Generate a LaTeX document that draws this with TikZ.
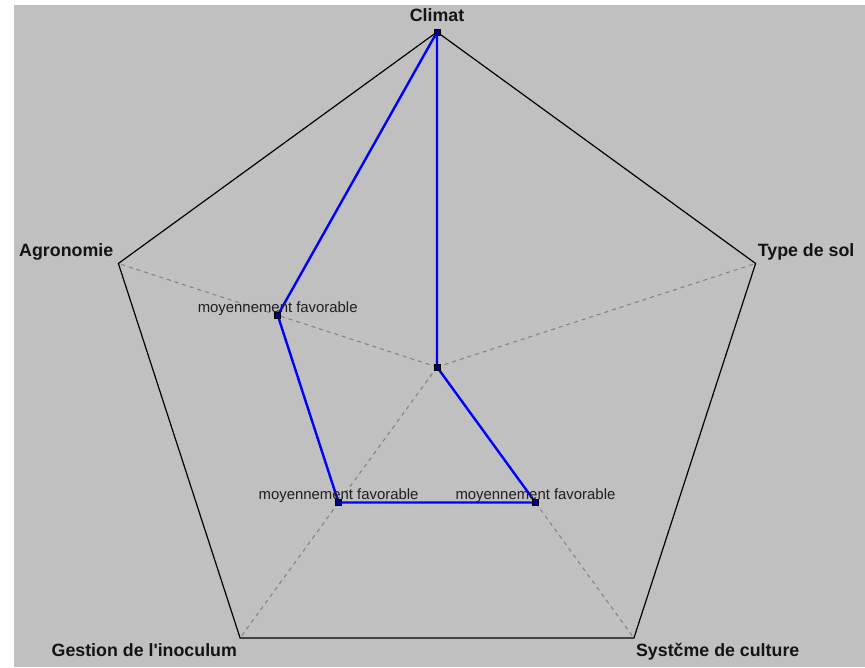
\documentclass[tikz,border=0pt]{standalone}
\usepackage{fontspec}
\setmainfont{Liberation Sans}
\definecolor{bggray}{RGB}{192,192,192}
\definecolor{dotblue}{RGB}{0,0,128}
\definecolor{spokegray}{RGB}{128,128,128}
\newcommand{\straightquote}{{\XeTeXglyph\XeTeXcharglyph"27\relax}}
\tikzset{
  axislabel/.style={font=\bfseries\fontsize{17.8}{20}\selectfont, text=black!92, inner sep=0pt},
  vallabel/.style={font=\fontsize{14.9}{17}\selectfont, text=black!88, inner sep=0pt},
  datapt/.style={rectangle, draw=black, fill=dotblue, minimum size=6pt, inner sep=0pt, line width=0.6pt},
  spoke/.style={spokegray, line width=1pt, dash pattern=on 4pt off 4pt},
}
\begin{document}
\begin{tikzpicture}[x=1pt,y=1pt]
        \def\myrad{335}% radius of the pentagon
        \def\myhalf{167.5}% half of the radius
        \useasboundingbox (0,0) rectangle (865,667);
        \fill[white] (0,0) rectangle (865,667);
        \fill[bggray] (14,0) rectangle (865,662);
        % the center and the five corners
        \coordinate (O) at (437,300);
        \coordinate (climat) at ([shift={(90:\myrad)}]O);
        \coordinate (sol) at ([shift={(18:\myrad)}]O);
        \coordinate (culture) at ([shift={(-54:\myrad)}]O);
        \coordinate (inoculum) at ([shift={(-126:\myrad)}]O);
        \coordinate (agro) at ([shift={(162:\myrad)}]O);
        % the values
        \coordinate (vclimat) at (climat);
        \coordinate (vsol) at (O);
        \coordinate (vculture) at ([shift={(-54:\myhalf)}]O);
        \coordinate (vinoculum) at ([shift={(-126:\myhalf)}]O);
        \coordinate (vagro) at ([shift={(162:\myhalf)}]O);

        \foreach \v in {climat,sol,culture,inoculum,agro}
            \draw[spoke] (O) -- (\v);
        \draw[line width=1.2pt] (climat) -- (sol) -- (culture) -- (inoculum) -- (agro) -- cycle;
        % the blue profile
        \draw[blue, line width=2.4pt, line join=round] (vclimat) -- (vagro) -- (vinoculum) -- (vculture) -- (vsol) -- cycle;
        \foreach \v in {climat,sol,culture,inoculum,agro}
            \node[datapt] (sq-\v) at (v\v) {};

        \node[vallabel, anchor=base] (lab-agro) at ([yshift=3pt]vagro) {moyennement favorable};
        \node[vallabel, anchor=base] (lab-inoculum) at ([yshift=3pt]vinoculum) {moyennement favorable};
        \node[vallabel, anchor=base] (lab-culture) at ([yshift=3pt]vculture) {moyennement favorable};

        \node[axislabel, anchor=base] (t-climat) at ([yshift=10pt]climat) {Climat};
        \node[axislabel, anchor=base west] (t-sol) at ([xshift=2pt,yshift=6.5pt]sol) {Type de sol};
        \node[axislabel, anchor=base west] (t-culture) at ([xshift=2pt,yshift=-18pt]culture) {Systčme de culture};
        \node[axislabel, anchor=base east] (t-inoculum) at ([xshift=-3pt,yshift=-18pt]inoculum) {Gestion de l\straightquote inoculum};
        \node[axislabel, anchor=base east] (t-agro) at ([xshift=-5pt,yshift=6.5pt]agro) {Agronomie};
    \end{tikzpicture}
\end{document}
